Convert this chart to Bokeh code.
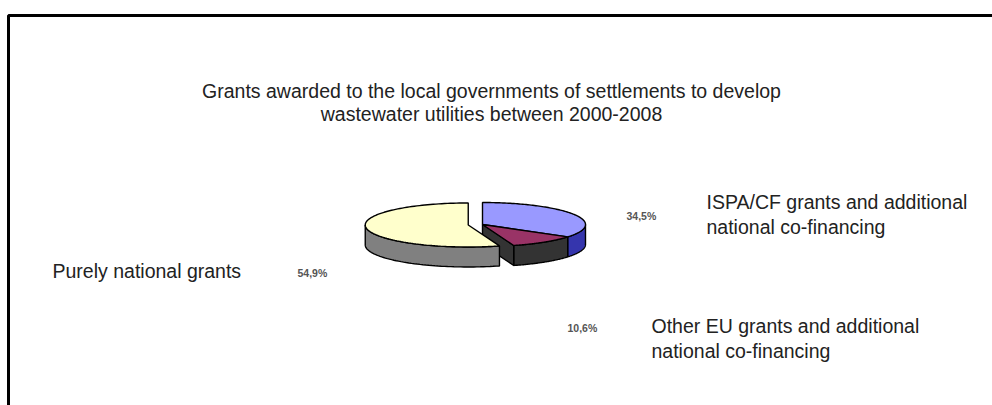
import numpy as np
from bokeh.plotting import figure
from bokeh.models import Range1d
from bokeh.core.properties import value
from bokeh.embed import file_html
from bokeh.resources import INLINE

# ---- data ----
title_lines = ["Grants awarded to the local governments of settlements to develop",
               "wastewater utilities between 2000-2008"]
categories = [["ISPA/CF grants and additional", "national co-financing"],
              ["Other EU grants and additional", "national co-financing"],
              ["Purely national grants"]]
shares = [34.5, 10.6, 54.9]
pct_labels = ["34,5%", "10,6%", "54,9%"]
explode = [0.0, 0.0, 0.14]
top_colors = ["#9999FF", "#993366", "#FFFFCC"]
side_colors = ["#3535AD", "#333333", "#808080"]

# ---- layout ----
W, H = 992, 405
CX, CY, RX, RY, DEPTH = 482, 224, 103, 22, 20
FONT = "Liberation Sans"

p = figure(width=W, height=H, output_backend="svg", toolbar_location=None,
           x_range=Range1d(0, W), y_range=Range1d(H, 0), min_border=0)
p.axis.visible = False
p.grid.visible = False
p.outline_line_color = None
p.background_fill_color = "white"

# frame
p.line([8, 8, 992], [405, 15, 15], line_color="black", line_width=3)

def pt(cx, cy, th):
    return cx + RX * np.sin(th), cy - RY * np.cos(th)

total = sum(shares)
angles = np.cumsum([0] + shares) / total * 2 * np.pi
centers = []
for i in range(len(shares)):
    a0, a1 = angles[i], angles[i + 1]
    mid = (a0 + a1) / 2
    k = explode[i]
    centers.append((CX + k * RX * np.sin(mid), CY - k * RY * np.cos(mid)))

# side walls (front-facing part of rim: theta in [pi/2, 3pi/2])
for i in range(len(shares)):
    a0, a1 = angles[i], angles[i + 1]
    cx, cy = centers[i]
    lo, hi = max(a0, np.pi / 2), min(a1, 3 * np.pi / 2)
    if hi > lo:
        th = np.linspace(lo, hi, 60)
        xs, ys = pt(cx, cy, th)
        px = list(xs) + list(xs[::-1])
        py = list(ys) + list(ys[::-1] + DEPTH)
        p.patch(px, py, fill_color=side_colors[i], line_color="black", line_width=1.4)
    # radial wall at end angle visible if facing front
    if explode[(i + 1) % len(shares)] > 0 and np.cos(a1 + np.pi / 2) < 0:
        ex, ey = pt(cx, cy, a1)
        p.patch([cx, ex, ex, cx], [cy, ey, ey + DEPTH, cy + DEPTH],
                fill_color=side_colors[i], line_color="black", line_width=1.4)

# top faces
for i in range(len(shares)):
    a0, a1 = angles[i], angles[i + 1]
    cx, cy = centers[i]
    th = np.linspace(a0, a1, 120)
    xs, ys = pt(cx, cy, th)
    p.patch([cx] + list(xs), [cy] + list(ys), fill_color=top_colors[i],
            line_color="black", line_width=1.4)

# title
p.text(x=[491, 491], y=[90, 113], text=title_lines, text_align="center",
       text_baseline="middle", text_font=value(FONT), text_font_size="19.5px",
       text_color="#222222")

# percent labels
p.text(x=[626, 567, 297], y=[215, 327, 272], text=pct_labels, text_align="left",
       text_baseline="middle", text_font=value(FONT), text_font_size="10.5px",
       text_font_style="bold", text_color="#555555")

# category labels
cat_pos = [(706, 201), (651, 325), (52, 270)]
lx, ly, lt = [], [], []
for (x0, y0), lines in zip(cat_pos, categories):
    for j, line in enumerate(lines):
        lx.append(x0); ly.append(y0 + 25 * j); lt.append(line)
p.text(x=lx, y=ly, text=lt, text_align="left", text_baseline="middle",
       text_font=value(FONT), text_font_size="19.5px", text_color="#222222")

open("out.html", "w").write(file_html(p, INLINE))
